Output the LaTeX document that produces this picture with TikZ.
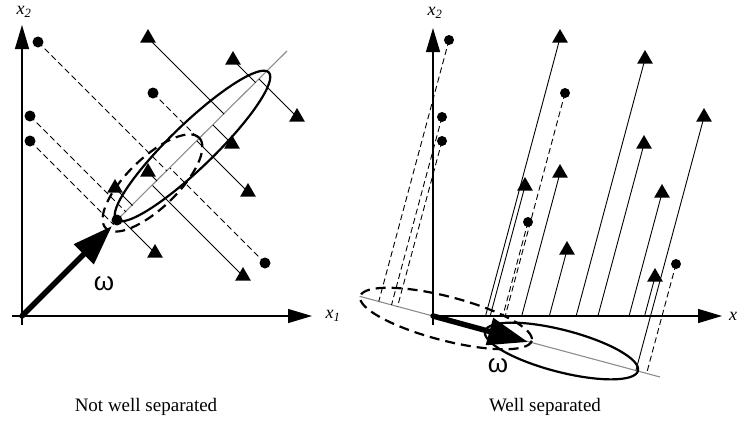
\documentclass[tikz,border=0pt]{standalone}
\usepackage{fontspec}
\setmainfont{Liberation Serif}
\newfontfamily\sansf{Liberation Sans}
\usetikzlibrary{arrows.meta,calc,shapes.geometric}
\begin{document}
\begin{tikzpicture}[x=1pt,y=-1pt,
  axisarrow/.style={line width=1.3pt,-{Triangle[length=24pt,width=14pt]}},
  projline/.style={line width=0.9pt},
  dprojline/.style={line width=0.9pt,dash pattern=on 6pt off 3.5pt},
  grayline/.style={draw=black!45,line width=1.1pt},
  ellsolid/.style={line width=2.2pt},
  elldash/.style={line width=2.2pt,dash pattern=on 10pt off 6pt},
  omegaarrow/.style={line width=5.5pt,line cap=round,-{Triangle[length=40pt,width=27pt]}},
  dotmark/.style={circle,fill=black,inner sep=0pt,minimum size=11pt},
  trimark/.style={regular polygon,regular polygon sides=3,fill=black,inner sep=0pt,minimum size=18pt},
  captiontext/.style={font=\fontsize{19}{22}\selectfont},
  axlabel/.style={font=\fontsize{18}{20}\selectfont\itshape,inner sep=0pt},
  omegalabel/.style={font=\sansf\fontsize{26}{28}\selectfont,inner sep=0pt}
]
\useasboundingbox (0,0) rectangle (738,424);

% ================= LEFT PANEL =================
\coordinate (O1) at (22,316);
\coordinate (C1) at (117,220);
\coordinate (G1b) at (287,51);
\draw[axisarrow] (12,316) -- (312,316);
\draw[axisarrow] (22,325) -- (22,25);
\draw[grayline] (C1) -- (G1b);

\foreach \x/\y [count=\i] in {38/42,153/93,30/116,30/141,265/263}{
  \coordinate (ld\i) at (\x,\y);
  \draw[dprojline] (ld\i) -- ($(O1)!(ld\i)!(G1b)$);
}
\foreach \x/\y [count=\i] in {148/38,233/60,297/117,232/144,148/172,115/188,155/253,243/276,248/192}{
  \coordinate (lt\i) at (\x,\y);
  \draw[projline] (lt\i) -- ($(O1)!(lt\i)!(G1b)$);
}
\draw[ellsolid, rotate around={44:(192.5,146)}] (192.5,146) ellipse [x radius=106, y radius=22];
\draw[elldash, rotate around={44:(152.5,183)}] (152.5,183) ellipse [x radius=65, y radius=25];
\draw[omegaarrow] (O1) -- (112,226);
\node[dotmark] (c1m) at (C1) {};
\foreach \x/\y [count=\i] in {38/42,153/93,30/116,30/141,265/263}{ \node[dotmark] (ldm\i) at (\x,\y) {}; }
\foreach \x/\y [count=\i] in {148/38,233/60,297/117,232/144,148/172,115/188,155/253,243/276,248/192}{ \node[trimark] (ltm\i) at (\x,\y) {}; }
\node[omegalabel] (om1) at (104,284) {ω};
\node[axlabel] (lx2) at (24,12) {x\textsubscript{2}};
\node[axlabel] (lx1) at (333,316) {x\textsubscript{1}};
\node[captiontext] (cap1) at (146,407) {Not well separated};

% ================= RIGHT PANEL =================
\coordinate (O2) at (433,316);
\coordinate (G2a) at (359.6,296.3);
\coordinate (G2b) at (660,377);
\draw[axisarrow] (433,316) -- (722,316);
\draw[axisarrow] (433,325) -- (433,28);
\draw[grayline] (G2a) -- (G2b);

% dots projected onto the grey line
\foreach \x/\y [count=\i] in {449/40,442/117,442/141,676/264}{
  \coordinate (rd\i) at (\x,\y);
  \draw[dprojline] (rd\i) -- ($(O2)!(rd\i)!(G2b)$);
}
% dots projected down to the x axis
\foreach \x/\y [count=\i] in {565/93,528/222}{
  \coordinate (re\i) at (\x,\y);
  \coordinate (ref\i) at ({\x-0.2679*(316-\y)},316);
  \draw[dprojline] (re\i) -- (ref\i);
}
% triangles down to the x axis
\foreach \x/\y [count=\i] in {560/38,645/59,644/144,560/173,525/186,662/193,567/250,655/277}{
  \coordinate (rt\i) at (\x,\y);
  \coordinate (rtf\i) at ({\x-0.2679*(316-\y)},316);
  \draw[projline] (rt\i) -- (rtf\i);
}
% triangle projected onto the grey line
\coordinate (rs1) at (704,117);
\draw[projline] (rs1) -- ($(O2)!(rs1)!(G2b)$);

\draw[elldash, rotate around={-14.5:(446,318.5)}] (446,318.5) ellipse [x radius=88.6, y radius=22];
\draw[ellsolid, rotate around={-14.5:(561.5,351)}] (561.5,351) ellipse [x radius=79, y radius=21];
\draw[omegaarrow] (O2) -- (528,342);
\foreach \x/\y [count=\i] in {449/40,442/117,442/141,676/264,565/93,528/222}{ \node[dotmark,minimum size=10pt] (rdm\i) at (\x,\y) {}; }
\foreach \x/\y [count=\i] in {560/38,645/59,644/144,560/173,525/186,662/193,567/250,655/277,704/117}{ \node[trimark] (rtm\i) at (\x,\y) {}; }
\node[omegalabel] (om2) at (498,366) {ω};
\node[axlabel] (rx2) at (435,13) {x\textsubscript{2}};
\node[axlabel,anchor=west] (rx1) at (729,316) {x};
\node[captiontext] (cap2) at (545,407) {Well separated};
\end{tikzpicture}
\end{document}
